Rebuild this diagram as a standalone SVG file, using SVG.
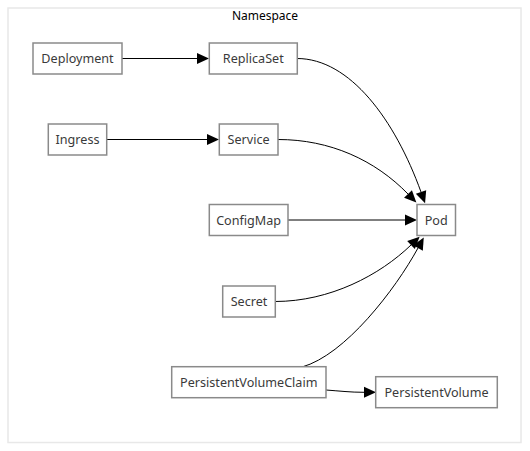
<svg xmlns="http://www.w3.org/2000/svg" width="530" height="451" viewBox="0 0 530 451">
<style>
.node rect{fill:#ffffff;stroke:#8a8a8a;stroke-width:1.5}
.node text{font-family:"Noto Sans","Open Sans",sans-serif;font-size:12.6px;fill:#3a3a3a;text-anchor:middle}
.edge{fill:none;stroke:#000;stroke-width:1}
.title{font-family:"Noto Sans","Open Sans",sans-serif;font-size:12px;fill:#000;text-anchor:middle}
</style>
<defs>
<marker id="arr" markerUnits="userSpaceOnUse" markerWidth="12" markerHeight="11" refX="0" refY="5.5" orient="auto" overflow="visible">
<path d="M0,0 L12,5.5 L0,11 z" fill="#000"/>
</marker>
</defs>
<rect width="530" height="451" fill="#fff"/>
<g id="cluster-namespace">
<rect x="8" y="8" width="513" height="434.5" fill="#fff" stroke="#e8e8e8" stroke-width="1.5"/>
<text class="title" x="265" y="19.5">Namespace</text>
</g>
<g id="edges">
<path class="edge" d="M122,58.5 L197,58.5" marker-end="url(#arr)"/>
<path class="edge" d="M106.7,139.5 L207,139.5" marker-end="url(#arr)"/>
<path class="edge" d="M288,220 L405,220" marker-end="url(#arr)"/>
<path class="edge" d="M297,58.5 C350,58.5 395,120 421,192" marker-end="url(#arr)"/>
<path class="edge" d="M278,139.5 C330,139.5 375,160 408,194" marker-end="url(#arr)"/>
<path class="edge" d="M275,301.5 C330,301.5 380,275 411,245" marker-end="url(#arr)"/>
<path class="edge" d="M302,367 C345,355 395,290 418,248" marker-end="url(#arr)"/>
<path class="edge" d="M326,390 C340,391 350,392.3 364,392.3" marker-end="url(#arr)"/>
</g>
<g id="node-deployment" class="node"><rect x="33" y="43" width="89" height="31"/><text x="77.5" y="63.3">Deployment</text></g>
<g id="node-replicaset" class="node"><rect x="209.3" y="43" width="88" height="31"/><text x="253.3" y="63.3">ReplicaSet</text></g>
<g id="node-ingress" class="node"><rect x="48.3" y="124" width="58.4" height="31"/><text x="77.5" y="144.3">Ingress</text></g>
<g id="node-service" class="node"><rect x="219.3" y="124" width="58.7" height="31"/><text x="248.6" y="144.3">Service</text></g>
<g id="node-configmap" class="node"><rect x="209.3" y="204.5" width="78.7" height="31"/><text x="248.6" y="224.8">ConfigMap</text></g>
<g id="node-pod" class="node"><rect x="417" y="204.5" width="38.5" height="31"/><text x="436.2" y="224.8">Pod</text></g>
<g id="node-secret" class="node"><rect x="222.7" y="286" width="52.6" height="31"/><text x="249" y="306.3">Secret</text></g>
<g id="node-pvc" class="node"><rect x="171.7" y="366.7" width="154.3" height="31"/><text x="248.8" y="387">PersistentVolumeClaim</text></g>
<g id="node-pv" class="node"><rect x="375.7" y="376.7" width="121.6" height="31"/><text x="436.5" y="397">PersistentVolume</text></g>
</svg>
